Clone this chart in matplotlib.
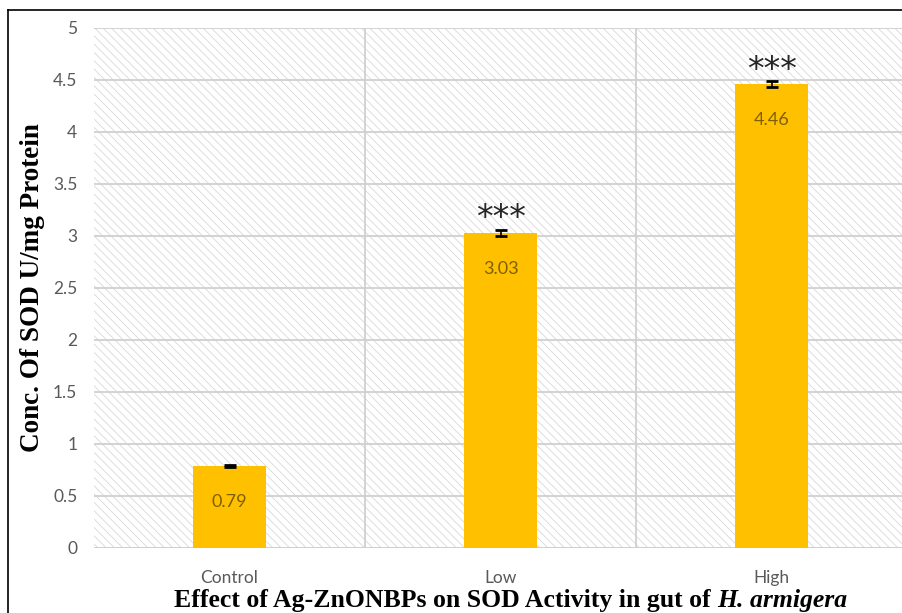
import matplotlib.pyplot as plt
from matplotlib.patches import Rectangle
from matplotlib.lines import Line2D

# dados da atividade de SOD
grupos = ["Control", "Low", "High"]
sod = [0.79, 3.03, 4.46]
erro = [0.01, 0.03, 0.03]
signif = ["", "***", "***"]

plt.rcParams['hatch.linewidth'] = 0.6

fig = plt.figure(figsize=(9.03, 6.13), dpi=100)
ax = fig.add_axes([94 / 903, 1 - 548 / 613, 813 / 903, 520 / 613])

x = range(len(grupos))

# fundo hachurado da área do gráfico
fundo = Rectangle((0, 0), 1, 1, transform=ax.transAxes, facecolor="white",
                  edgecolor="#d8d8d8", hatch="\\\\\\\\", linewidth=0, zorder=0)
ax.add_patch(fundo)

barras = ax.bar(x, sod, width=0.27, color="#FFC000", zorder=3)
ax.errorbar(x, sod, yerr=erro, fmt="none", ecolor="black", elinewidth=1.2,
            capsize=4, capthick=2, zorder=4)

# valores dentro das barras
for i, v in enumerate(sod):
    ax.annotate(f"{v:.2f}", (i, v), xytext=(0, -26), textcoords="offset points",
                ha="center", va="center", fontsize=13, color="#7f6000",
                family="Lato")

# asteriscos de significância
for i, s in enumerate(signif):
    if s:
        ax.annotate(s, (i, sod[i] + erro[i]), xytext=(0, -4), textcoords="offset points",
                    ha="center", va="bottom", fontsize=24, color="#262626",
                    family="DejaVu Sans")

ax.set_xlim(-0.5, 2.5)
ax.set_ylim(0, 5)
ax.set_yticks([i * 0.5 for i in range(11)])
ax.set_yticklabels(["0", "0.5", "1", "1.5", "2", "2.5", "3", "3.5", "4", "4.5", "5"])
ax.set_xticks(list(x))
ax.set_xticklabels(grupos)
ax.set_xticks([0.5, 1.5], minor=True)

ax.tick_params(axis="both", which="both", length=0, labelsize=12.5, labelcolor="#595959")
ax.tick_params(axis="y", pad=12)
ax.tick_params(axis="x", pad=16)
for lab in ax.get_xticklabels() + ax.get_yticklabels():
    lab.set_family("Lato")

ax.grid(axis="y", which="major", color="#d0d0d0", linewidth=1.3)
ax.grid(axis="x", which="minor", color="#d0d0d0", linewidth=1.3)
ax.grid(axis="x", which="major", visible=False)
ax.set_axisbelow(True)
for s in ax.spines.values():
    s.set_visible(False)
ax.axhline(0, color="#d0d0d0", linewidth=1.3, zorder=2)

ax.set_ylabel("Conc. Of SOD U/mg Protein", family="Liberation Serif", fontweight="bold",
              fontsize=19.5, color="black", labelpad=6)

# título embaixo do eixo x: parte normal + nome da espécie em itálico
fig.canvas.draw()
rend = fig.canvas.get_renderer()
t1 = fig.text(0, 1 - 601 / 613, "Effect of Ag-ZnONBPs on SOD Activity in gut of ",
              ha="left", va="center", family="Liberation Serif", fontweight="bold", fontsize=18.5)
t2 = fig.text(0, 1 - 601 / 613, "H. armigera", ha="left", va="center",
              family="Liberation Serif", fontweight="bold", fontstyle="italic", fontsize=18.5)
w1 = t1.get_window_extent(rend).width
w2 = t2.get_window_extent(rend).width
x0 = (511 - (w1 + w2) / 2) / 903
t1.set_x(x0)
t2.set_x(x0 + w1 / 903)

# moldura preta (esquerda e topo)
fig.add_artist(Line2D([8 / 903, 8 / 903], [0, 1 - 10 / 613], color="black", linewidth=1.2))
fig.add_artist(Line2D([8 / 903, 1], [1 - 10 / 613, 1 - 10 / 613], color="black", linewidth=1.2))

fig.savefig("out.png", dpi=100)
